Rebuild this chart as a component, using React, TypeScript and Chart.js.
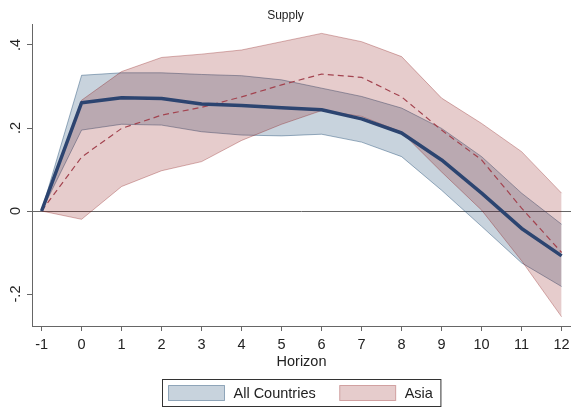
import React, { useEffect, useRef } from "react";
import { Chart, registerables } from "chart.js";

Chart.register(...registerables);

// ---- data ----
const horizons = [-1, 0, 1, 2, 3, 4, 5, 6, 7, 8, 9, 10, 11, 12];
const xTickValues = [-1, 0, 1, 2, 3, 4, 5, 6, 7, 8, 9, 10, 11, 12];
const yTickValues = [-0.2, 0, 0.2, 0.4];
const yTickLabels = ["-.2", "0", ".2", ".4"];

const allMean = [0, 0.261, 0.273, 0.271, 0.258, 0.254, 0.249, 0.244, 0.222, 0.188, 0.123, 0.043, -0.042, -0.108];
const allUpper = [0, 0.327, 0.333, 0.333, 0.329, 0.326, 0.316, 0.296, 0.276, 0.248, 0.199, 0.131, 0.043, -0.032];
const allLower = [0, 0.195, 0.209, 0.207, 0.191, 0.183, 0.181, 0.185, 0.166, 0.131, 0.05, -0.037, -0.125, -0.182];

const asiaMean = [0, 0.13, 0.199, 0.231, 0.25, 0.275, 0.304, 0.33, 0.322, 0.275, 0.195, 0.123, 0.007, -0.1];
const asiaUpper = [0, 0.267, 0.336, 0.37, 0.378, 0.388, 0.408, 0.428, 0.408, 0.372, 0.272, 0.211, 0.143, 0.043];
const asiaLower = [0, -0.02, 0.059, 0.097, 0.119, 0.17, 0.209, 0.242, 0.228, 0.19, 0.094, 0.002, -0.12, -0.255];

const titleText = "Supply";
const xTitle = "Horizon";
const legendLabels = ["All Countries", "Asia"];

// ---- styles ----
const FONT = "'Liberation Sans', Arial, sans-serif";
const navy = "#2c4470";
const dashRed = "#a3434f";
const blueFill = "rgba(26,71,111,0.24)";
const blueEdge = "rgba(26,71,111,0.42)";
const pinkFill = "rgba(128,0,0,0.2)";
const pinkEdge = "rgba(128,0,0,0.3)";
const axisColor = "#666666";
const textColor = "#222222";

export default function App() {
  const ref = useRef<HTMLCanvasElement>(null);

  useEffect(() => {
    const canvas = ref.current;
    if (!canvas) return;
    const mk = (arr: number[]) => horizons.map((h, i) => ({ x: h, y: arr[i] }));

    const zeroLine = {
      id: "zeroLine",
      beforeDatasetsDraw(chart: any) {
        const { ctx, chartArea, scales } = chart;
        const py = Math.round(scales.y.getPixelForValue(0)) + 0.5;
        ctx.save();
        ctx.strokeStyle = axisColor;
        ctx.lineWidth = 1;
        ctx.beginPath();
        ctx.moveTo(chartArea.left, py);
        ctx.lineTo(chartArea.right, py);
        ctx.stroke();
        ctx.restore();
      },
    };

    const legendBox = {
      id: "legendBox",
      afterDraw(chart: any) {
        const { ctx, chartArea } = chart;
        ctx.save();
        ctx.font = `14.5px ${FONT}`;
        const items = [
          { label: legendLabels[0], fill: blueFill, edge: blueEdge },
          { label: legendLabels[1], fill: pinkFill, edge: pinkEdge },
        ];
        const sw = 56, sh = 15, gapText = 9, gapItem = 24, padL = 6, padR = 8;
        const widths = items.map((it) => ctx.measureText(it.label).width);
        let total = padL + padR + gapItem * (items.length - 1);
        items.forEach((_, i) => (total += sw + gapText + widths[i]));
        const cx = (chartArea.left + chartArea.right) / 2;
        const left = Math.round(cx - total / 2) + 0.5;
        const top = chart.height - 28.5;
        const h = 27;
        ctx.strokeStyle = "#333333";
        ctx.lineWidth = 1;
        ctx.strokeRect(left, top, total, h);
        let x = left + padL;
        items.forEach((it, i) => {
          ctx.fillStyle = "#ffffff";
          ctx.fillRect(x, top + 6, sw, sh);
          ctx.fillStyle = it.fill;
          ctx.fillRect(x, top + 6, sw, sh);
          ctx.strokeStyle = it.edge;
          ctx.strokeRect(x, top + 6, sw, sh);
          ctx.fillStyle = textColor;
          ctx.textBaseline = "middle";
          ctx.textAlign = "left";
          ctx.fillText(it.label, x + sw + gapText, top + 14);
          x += sw + gapText + widths[i] + gapItem;
        });
        ctx.restore();
      },
    };

    const tickFont = { family: FONT, size: 14.5, weight: "normal" as const };

    const chart = new Chart(canvas, {
      type: "line",
      data: {
        datasets: [
          {
            label: "All Countries mean",
            data: mk(allMean),
            borderColor: navy,
            borderWidth: 3.5,
            pointRadius: 0,
            fill: false,
            tension: 0,
            borderJoinStyle: "round",
            order: 0,
          },
          {
            label: "Asia mean",
            data: mk(asiaMean),
            borderColor: dashRed,
            borderWidth: 1.2,
            borderDash: [6, 4],
            pointRadius: 0,
            fill: false,
            tension: 0,
            order: 1,
          },
          {
            label: "Asia lower",
            data: mk(asiaLower),
            borderColor: pinkEdge,
            borderWidth: 1,
            pointRadius: 0,
            fill: false,
            tension: 0,
            order: 2,
          },
          {
            label: legendLabels[1],
            data: mk(asiaUpper),
            borderColor: pinkEdge,
            backgroundColor: pinkFill,
            borderWidth: 1,
            pointRadius: 0,
            fill: "-1",
            tension: 0,
            order: 2,
          },
          {
            label: "All Countries lower",
            data: mk(allLower),
            borderColor: blueEdge,
            borderWidth: 1,
            pointRadius: 0,
            fill: false,
            tension: 0,
            order: 3,
          },
          {
            label: legendLabels[0],
            data: mk(allUpper),
            borderColor: blueEdge,
            backgroundColor: blueFill,
            borderWidth: 1,
            pointRadius: 0,
            fill: "-1",
            tension: 0,
            order: 3,
          },
        ],
      },
      options: {
        responsive: false,
        animation: false,
        devicePixelRatio: 1,
        layout: { padding: 0 },
        plugins: {
          legend: { display: false },
          tooltip: { enabled: false },
          title: {
            display: true,
            text: titleText,
            color: textColor,
            font: { family: FONT, size: 12, weight: "normal" },
            padding: { top: 8, bottom: 1.6 },
          },
        },
        scales: {
          x: {
            type: "linear",
            min: -1.24,
            max: 12.235,
            afterBuildTicks: (s: any) => {
              s.ticks = xTickValues.map((v) => ({ value: v }));
            },
            afterFit: (s: any) => {
              s.height = 82;
              s.paddingLeft = 0;
              s.paddingRight = 0;
            },
            ticks: {
              font: tickFont,
              color: textColor,
              padding: 5,
              autoSkip: false,
              maxRotation: 0,
              callback: (v: any) => String(v),
            },
            grid: {
              display: true,
              drawOnChartArea: false,
              drawTicks: true,
              tickLength: 5,
              color: axisColor,
            },
            border: { display: true, color: axisColor, width: 1 },
            title: {
              display: true,
              text: xTitle,
              color: textColor,
              font: tickFont,
              padding: { top: 0, bottom: 37.6 },
            },
          },
          y: {
            type: "linear",
            min: -0.2771,
            max: 0.4506,
            afterBuildTicks: (s: any) => {
              s.ticks = yTickValues.map((v) => ({ value: v }));
            },
            afterFit: (s: any) => {
              s.width = 32;
              s.paddingTop = 0;
              s.paddingBottom = 0;
            },
            ticks: {
              font: tickFont,
              color: textColor,
              padding: 3,
              minRotation: 90,
              maxRotation: 90,
              crossAlign: "center",
              autoSkip: false,
              callback: (_v: any, i: number) => yTickLabels[i],
            },
            grid: {
              display: true,
              drawOnChartArea: false,
              drawTicks: true,
              tickLength: 5,
              color: axisColor,
            },
            border: { display: true, color: axisColor, width: 1 },
          },
        },
      },
      plugins: [zeroLine, legendBox],
    } as any);

    return () => chart.destroy();
  }, []);

  return (
    <div style={{ position: "fixed", left: 0, top: 0, width: 571, height: 408, background: "#ffffff" }}>
      <canvas ref={ref} width={571} height={408} style={{ display: "block" }} />
    </div>
  );
}
